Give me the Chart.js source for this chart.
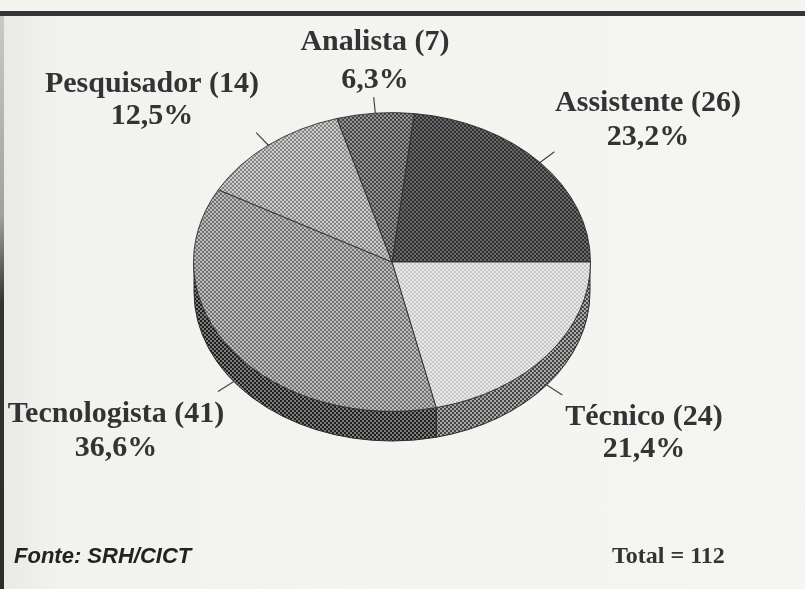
<!DOCTYPE html>
<html>
<head>
<meta charset="utf-8">
<script src="https://cdn.jsdelivr.net/npm/chart.js@4"></script>
<style>
  html, body { margin: 0; padding: 0; background: #f3f3f0; overflow: hidden; }
  #wrap { position: relative; width: 805px; height: 589px;
    background: linear-gradient(90deg, #e9e9e6 0, #f2f2ef 60px, #f5f5f2 100%); }
  #topbar { position: absolute; left: 0; top: 0; width: 805px; height: 11px; background: #f4f4f1; }
  #rule { position: absolute; left: 0; top: 11px; width: 805px; height: 5px; background: #35353a; }
  #edge { position: absolute; left: 0; top: 16px; width: 4px; height: 573px;
    background: linear-gradient(180deg, #c9c9c6 0, #a0a0a0 35%, #333 50%, #2c2c2c 100%); }
  canvas { position: absolute; left: 0; top: 0; }
</style>
</head>
<body>
<div id="wrap">
  <div id="topbar"></div>
  <div id="rule"></div>
  <div id="edge"></div>
  <canvas id="chart" width="805" height="589"></canvas>
</div>
<script>
const categorias = ['Assistente', 'Técnico', 'Tecnologista', 'Pesquisador', 'Analista'];
const valores = [26, 24, 41, 14, 7];
const percentuais = ['23,2%', '21,4%', '36,6%', '12,5%', '6,3%'];

// layout of the drawing, not data
const cx = 392, cy = 262, rx = 198, ry = 149, depth = 30;
const labelPos = [[648, 103, 137], [644, 417, 449], [116, 414, 448], [152, 84, 116], [375, 42, 80]];
const textColor = '#333335';

// printed halftone look
function dither(dark, light, cell) {
  const c = document.createElement('canvas');
  c.width = c.height = cell * 2;
  const g = c.getContext('2d');
  g.fillStyle = light;
  g.fillRect(0, 0, cell * 2, cell * 2);
  g.fillStyle = dark;
  g.fillRect(0, 0, cell, cell);
  g.fillRect(cell, cell, cell, cell);
  return c;
}

function pattern(ctx, dark, light, cell, squash) {
  const p = ctx.createPattern(dither(dark, light, cell), 'repeat');
  if (squash) p.setTransform(new DOMMatrix().scale(1, rx / ry));
  return p;
}

const ctx = document.getElementById('chart').getContext('2d');
const topFill = [
  pattern(ctx, '#2e2e30', '#6c6c6c', 2, true),
  pattern(ctx, '#c4c4c4', '#ececec', 2, true),
  pattern(ctx, '#6e6e6e', '#c0c0c0', 2, true),
  pattern(ctx, '#808080', '#d0d0d0', 2, true),
  pattern(ctx, '#3e3e3e', '#9a9a9a', 2, true)
];
const sideFill = [
  null,
  pattern(ctx, '#454545', '#a8a8a8', 2, false),
  pattern(ctx, '#1e1e1e', '#7c7c7c', 2, false),
  null,
  null
];

const pie3d = {
  id: 'pie3d',
  beforeDatasetsDraw(chart) {
    const c = chart.ctx;
    const arcs = chart.getDatasetMeta(0).data;
    // side wall, only the front half shows
    arcs.forEach((arc, i) => {
      const a0 = Math.max(arc.startAngle, 0);
      const a1 = Math.min(arc.endAngle, Math.PI);
      if (a1 <= a0 || !sideFill[i]) return;
      c.beginPath();
      c.ellipse(cx, cy, rx, ry, 0, a0, a1);
      c.ellipse(cx, cy + depth, rx, ry, 0, a1, a0, true);
      c.closePath();
      c.fillStyle = sideFill[i];
      c.fill();
      c.strokeStyle = '#2a2a2a';
      c.lineWidth = 1;
      c.stroke();
    });
    c.save();
    c.translate(cx, cy);
    c.scale(1, ry / rx);
    c.translate(-cx, -cy);
  },
  afterDatasetsDraw(chart) {
    const c = chart.ctx;
    c.restore();
    const arcs = chart.getDatasetMeta(0).data;
    // leader lines out of each slice middle
    c.strokeStyle = '#444';
    c.lineWidth = 1.2;
    arcs.forEach(arc => {
      const m = (arc.startAngle + arc.endAngle) / 2;
      const off = Math.sin(m) > 0 ? depth : 0;
      c.beginPath();
      c.moveTo(cx + rx * Math.cos(m), cy + ry * Math.sin(m) + off);
      c.lineTo(cx + rx * 1.1 * Math.cos(m), cy + ry * 1.11 * Math.sin(m) + off);
      c.stroke();
    });
    c.fillStyle = textColor;
    c.textAlign = 'center';
    c.textBaseline = 'middle';
    c.font = 'bold 30px "Liberation Serif"';
    categorias.forEach((nome, i) => {
      const [x, y1, y2] = labelPos[i];
      c.fillText(nome + ' (' + valores[i] + ')', x, y1);
      c.fillText(percentuais[i], x, y2);
    });
    c.textAlign = 'left';
    c.font = 'italic bold 22px "Liberation Sans"';
    c.fillStyle = '#222';
    c.fillText('Fonte: SRH/CICT', 14, 557);
    c.font = 'bold 24px "Liberation Serif"';
    c.fillStyle = textColor;
    c.fillText('Total = 112', 612, 557);
  }
};

new Chart(ctx, {
  type: 'pie',
  data: {
    labels: categorias,
    datasets: [{
      data: valores,
      backgroundColor: topFill,
      borderColor: '#2a2a2a',
      borderWidth: 1,
      clip: false
    }]
  },
  options: {
    responsive: false,
    animation: false,
    rotation: 6.43,
    layout: { padding: { left: cx - rx - 1, right: 805 - cx - rx - 1, top: cy - rx - 1, bottom: 589 - cy - rx - 1 } },
    plugins: { legend: { display: false }, tooltip: { enabled: false } }
  },
  plugins: [pie3d]
});
</script>
</body>
</html>
